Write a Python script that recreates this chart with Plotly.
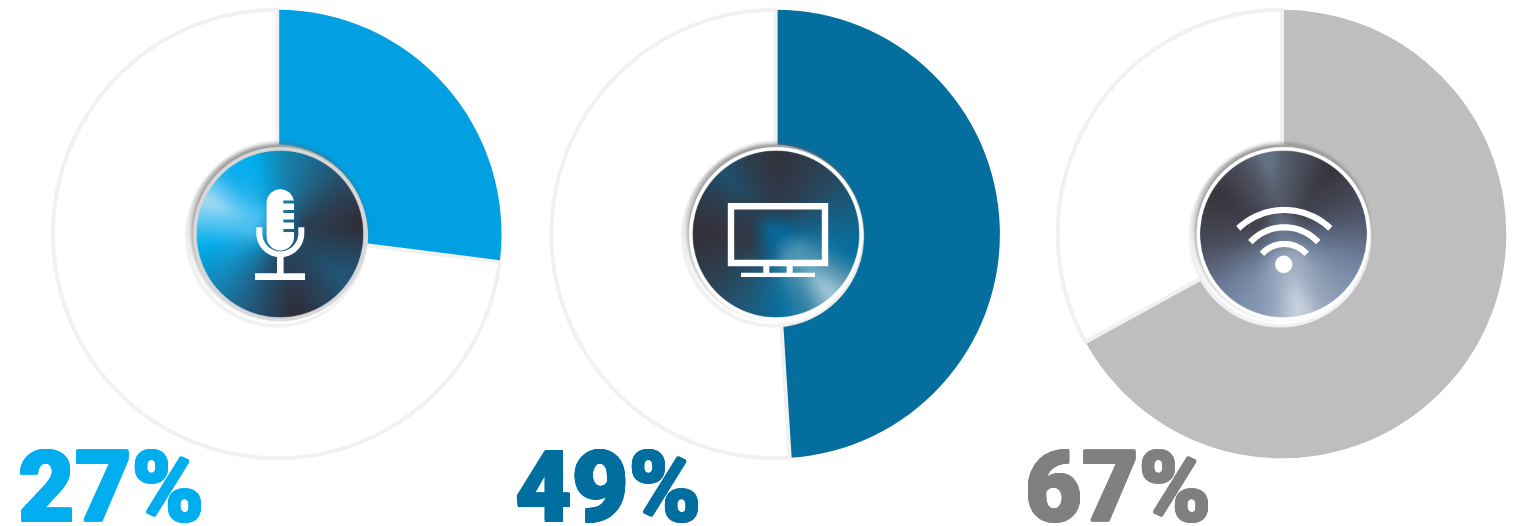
import base64, struct, zlib
import numpy as np
import plotly.graph_objects as go

WIDTH, HEIGHT = 1517, 526

# Survey shares
shares = [27, 49, 67]
share_labels = ["27%", "49%", "67%"]
slice_colors = ["#00a0e2", "#046f9f", "#bebebe"]
label_colors = ["#00aeef", "#006fa0", "#808080"]
label_left = [17, 514, 1024]
ring_color = "#f1f1f1"
ring_centers = [277.2, 775.6, 1282]
ring_center_y = 234
ring_radius = 224.3

# Angular colour stops (degrees clockwise from north) for the round badges
badge_stops = [
    [(0, "#1487b0"), (30, "#1f6488"), (60, "#2c3f52"), (82, "#2f2d38"), (105, "#26465f"), (125, "#20587a"),
     (148, "#294056"), (168, "#2f2d38"), (195, "#23506e"), (230, "#1684b4"), (262, "#00aeef"),
     (294, "#a8dcf5"), (318, "#12aeef"), (340, "#00aeef"), (360, "#1487b0")],
    [(0, "#33303a"), (45, "#28485e"), (80, "#12648e"), (105, "#04709f"), (120, "#4d90b0"), (137, "#a8cbd9"),
     (155, "#3c87a8"), (175, "#066f9f"), (200, "#1e5a7a"), (235, "#2d3f50"), (270, "#352e36"),
     (300, "#2c3e50"), (320, "#1f5070"), (340, "#2c3e4e"), (360, "#33303a")],
    [(0, "#565e6e"), (35, "#37333b"), (78, "#50566a"), (110, "#6f829f"), (150, "#97a6bb"),
     (168, "#cfd6e2"), (190, "#8e9fb8"), (225, "#6f819f"), (260, "#4a4d5c"), (300, "#38333b"),
     (330, "#4c505e"), (348, "#68778c"), (360, "#565e6e")],
]
badge_core = ["#1277a6", "#07699a", "#6b7a90"]
badge_centers = [(280, 234), (776, 234), (1283.5, 234)]
badge_radius = 83.3
badge_rim = ["#d8d8d8", "#ffffff", "#ffffff"]


def px(x):
    return x / WIDTH


def py(y):
    return 1 - y / HEIGHT


def hex_rgb(c):
    return [int(c[i:i + 2], 16) for i in (1, 3, 5)]


def smooth(a, b, v):
    t = np.clip((v - a) / (b - a), 0, 1)
    return t * t * (3 - 2 * t)


def over(rgb, alpha, color, a):
    # Standard source-over compositing on straight-alpha layers
    out_a = a + alpha * (1 - a)
    safe = np.where(out_a > 0, out_a, 1)
    col = np.asarray(color, dtype=float)
    if col.ndim == 1:
        col = col[None, None, :]
    out = (col * a[..., None] + rgb * (alpha * (1 - a))[..., None]) / safe[..., None]
    return out, out_a


def png_uri(arr):
    h, w, _ = arr.shape
    raw = b"".join(b"\x00" + arr[i].tobytes() for i in range(h))

    def chunk(tag, data):
        body = tag + data
        return struct.pack(">I", len(data)) + body + struct.pack(">I", zlib.crc32(body))

    png = (b"\x89PNG\r\n\x1a\n" + chunk(b"IHDR", struct.pack(">IIBBBBB", w, h, 8, 6, 0, 0, 0))
           + chunk(b"IDAT", zlib.compress(raw, 6)) + chunk(b"IEND", b""))
    return "data:image/png;base64," + base64.b64encode(png).decode()


def circular_blur(table, width):
    kernel = np.ones(width) / width
    return np.stack([np.convolve(np.r_[table[:, i], table[:, i], table[:, i]], kernel, "same")[360:720]
                     for i in range(3)], axis=-1)


def badge_image(stops, core, rim):
    # Badge with conic sheen, rim, soft top-left shadow and pale outer halo
    half, scale = 104, 3
    n = 2 * half * scale
    axis = (np.arange(n) + 0.5) / scale - half
    X, Y = np.meshgrid(axis, axis)
    aa = 0.4
    rgb = np.zeros((n, n, 3))
    alpha = np.zeros((n, n))

    d = np.hypot(X + 3.5, Y - 2)
    rgb, alpha = over(rgb, alpha, hex_rgb(ring_color), 1 - smooth(91.5 - aa, 91.5 + aa, d))
    d = np.hypot(X + 2.5, Y - 1.5)
    rgb, alpha = over(rgb, alpha, [255, 255, 255], 1 - smooth(88.5 - aa, 88.5 + aa, d))

    d = np.hypot(X + 1.5, Y + 3)
    rgb, alpha = over(rgb, alpha, [95, 95, 95], 0.72 * (1 - smooth(82, 92, d)))

    d = np.hypot(X, Y)
    rgb, alpha = over(rgb, alpha, hex_rgb(rim), 1 - smooth(87 - aa, 87 + aa, d))

    # Colour table around the circle, plus a widely blurred copy for the inner zone
    ang = (np.degrees(np.arctan2(X, -Y))) % 360
    deg = [s[0] for s in stops]
    cols = np.array([hex_rgb(s[1]) for s in stops], dtype=float)
    table = np.stack([np.interp(np.arange(360), deg, cols[:, i]) for i in range(3)], axis=-1)
    idx = np.clip(ang.astype(int), 0, 359)
    sharp = circular_blur(table, 9)[idx]
    soft = circular_blur(table, 70)[idx]
    core_rgb = np.asarray(hex_rgb(core), dtype=float)[None, None, :]
    inner = smooth(0, 30, d)[..., None]
    outer = smooth(25, 80, d)[..., None]
    conic = (core_rgb * (1 - inner) + soft * inner) * (1 - outer) + sharp * outer
    rgb, alpha = over(rgb, alpha, conic, 1 - smooth(badge_radius - aa, badge_radius + aa, d))

    arr = np.dstack([np.clip(rgb, 0, 255), np.clip(alpha * 255, 0, 255)]).round().astype(np.uint8)
    return png_uri(arr), half


def poly(points):
    return "M" + "L".join(f"{px(x):.6f},{py(y):.6f}" for x, y in points) + "Z"


def line_path(points):
    return "M" + "L".join(f"{px(x):.6f},{py(y):.6f}" for x, y in points)


def arc(cx, cy, r, a0, a1, n=40):
    t = np.radians(np.linspace(a0, a1, n))
    return list(zip(cx + r * np.sin(t), cy - r * np.cos(t)))


def white_shape(path):
    return dict(type="path", path=path, xref="paper", yref="paper",
                fillcolor="white", line=dict(width=0), layer="above")


def stroke_shape(path, width):
    return dict(type="path", path=path, xref="paper", yref="paper",
                line=dict(color="white", width=width), layer="above")


def rect_shape(x0, y0, x1, y1):
    return dict(type="rect", xref="paper", yref="paper", x0=px(x0), x1=px(x1), y0=py(y1), y1=py(y0),
                fillcolor="white", line=dict(width=0), layer="above")


def mic_icon():
    out = []
    cx = 280.3
    r = 13.7
    top, bottom = 189.3, 250.5
    pts = arc(cx, top + r, r, -90, 90, 30)
    right = cx + r
    notch_x = cx + 3
    for y0, y1 in [(200.5, 203.5), (210, 213), (219.5, 222.5), (229, 232)]:
        pts += [(right, y0), (notch_x, y0), (notch_x, y1), (right, y1)]
    pts += arc(cx, bottom - r, r, 90, 270, 40)
    out.append(white_shape(poly(pts)))
    cradle = [(cx - 21, 227.3)] + arc(cx, 233.3, 21, -90, -270, 40) + [(cx + 21, 227.3)]
    out.append(stroke_shape(line_path(cradle), 6))
    out.append(rect_shape(cx - 3.3, 256, cx + 3.3, 274))
    out.append(rect_shape(255, 273.3, 305, 280))
    return out


def tv_icon():
    out = [dict(type="rect", xref="paper", yref="paper", x0=px(731), x1=px(825), y0=py(263), y1=py(206.3),
                line=dict(color="white", width=6.4), fillcolor="rgba(0,0,0,0)", layer="above")]
    out.append(rect_shape(763.3, 265, 769.3, 274))
    out.append(rect_shape(786.7, 265, 792.7, 274))
    out.append(rect_shape(741, 272.7, 815, 277))
    return out


def wifi_icon():
    out = []
    for r, half, cy in [(66.7, 43.6, 276.7), (46, 47.5, 273.3), (30, 48, 274)]:
        out.append(stroke_shape(line_path(arc(1284.3, cy, r, -half, half, 40)), 6.2))
    dot_x, dot_y, dot_r = 1283.7, 264.3, 8.7
    out.append(dict(type="circle", xref="paper", yref="paper",
                    x0=px(dot_x - dot_r), x1=px(dot_x + dot_r), y0=py(dot_y + dot_r), y1=py(dot_y - dot_r),
                    fillcolor="white", line=dict(width=0), layer="above"))
    return out


def heavy(color, w=1):
    # Extra stroke weight for the big percentage figures
    return ", ".join(f"{dx}px {dy}px 0 {color}" for dx in (-w, 0, w) for dy in (-w, 0, w) if dx or dy)


fig = go.Figure()

for share, color, cx in zip(shares, slice_colors, ring_centers):
    fig.add_trace(go.Pie(
        values=[share, 100 - share],
        sort=False, direction="clockwise", rotation=0,
        textinfo="none", hoverinfo="skip", showlegend=False,
        marker=dict(colors=[color, "#ffffff"],
                    line=dict(color=[color, ring_color], width=[0, 4])),
        domain=dict(x=[px(cx - ring_radius), px(cx + ring_radius)],
                    y=[py(ring_center_y + ring_radius), py(ring_center_y - ring_radius)]),
    ))

images = []
for stops, core, rim, (bx, by) in zip(badge_stops, badge_core, badge_rim, badge_centers):
    uri, half = badge_image(stops, core, rim)
    images.append(dict(source=uri, xref="paper", yref="paper", layer="above",
                       x=px(bx - half), y=py(by - half), sizex=2 * half / WIDTH, sizey=2 * half / HEIGHT,
                       xanchor="left", yanchor="top", sizing="stretch"))

annotations = [
    dict(text=t, x=px(x), y=py(522), xref="paper", yref="paper", xanchor="left", yanchor="bottom",
         showarrow=False, yshift=-24, borderpad=0,
         font=dict(family="Roboto", size=98, color=c, weight=900, shadow=heavy(c)))
    for t, x, c in zip(share_labels, label_left, label_colors)
]

fig.update_layout(
    width=WIDTH, height=HEIGHT, margin=dict(l=0, r=0, t=0, b=0),
    paper_bgcolor="white", plot_bgcolor="white",
    images=images, annotations=annotations,
    shapes=mic_icon() + tv_icon() + wifi_icon(),
)

fig.write_html("out.html", config=dict(displayModeBar=False))
